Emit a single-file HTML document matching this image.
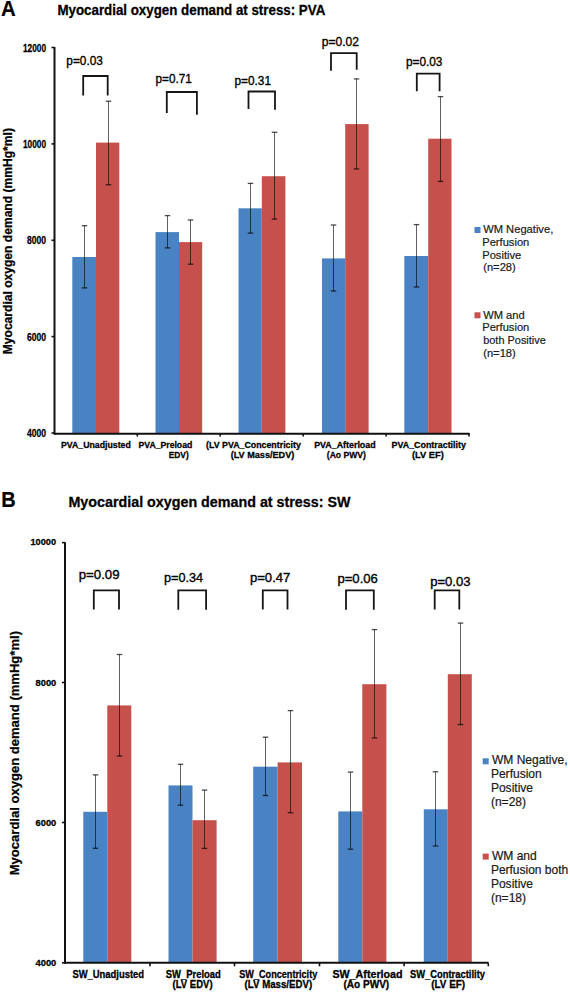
<!DOCTYPE html>
<html><head><meta charset="utf-8"><title>Myocardial oxygen demand at stress</title>
<style>html,body{margin:0;padding:0;background:#fff;}svg{display:block;font-family:"Liberation Sans", sans-serif;}</style></head>
<body><svg width="570" height="992" viewBox="0 0 570 992">
<rect width="570" height="992" fill="#fff"/>
<rect x="72.30" y="257.00" width="23.70" height="176.70" fill="#4A83C4"/>
<rect x="96.00" y="142.60" width="23.30" height="291.10" fill="#C6514C"/>
<rect x="155.50" y="232.10" width="23.50" height="201.60" fill="#4A83C4"/>
<rect x="179.00" y="242.10" width="23.20" height="191.60" fill="#C6514C"/>
<rect x="238.50" y="208.30" width="23.30" height="225.40" fill="#4A83C4"/>
<rect x="261.80" y="176.20" width="23.60" height="257.50" fill="#C6514C"/>
<rect x="322.00" y="258.40" width="23.20" height="175.30" fill="#4A83C4"/>
<rect x="345.20" y="124.10" width="23.40" height="309.60" fill="#C6514C"/>
<rect x="404.30" y="256.00" width="23.90" height="177.70" fill="#4A83C4"/>
<rect x="428.20" y="138.70" width="23.30" height="295.00" fill="#C6514C"/>
<line x1="84.50" y1="225.70" x2="84.50" y2="287.90" stroke="#000" stroke-opacity="0.62" stroke-width="1.0"/>
<line x1="81.75" y1="225.70" x2="87.25" y2="225.70" stroke="#000" stroke-opacity="0.7" stroke-width="1.3"/>
<line x1="81.75" y1="287.90" x2="87.25" y2="287.90" stroke="#000" stroke-opacity="0.7" stroke-width="1.3"/>
<line x1="108.50" y1="101.20" x2="108.50" y2="184.70" stroke="#000" stroke-opacity="0.62" stroke-width="1.0"/>
<line x1="105.75" y1="101.20" x2="111.25" y2="101.20" stroke="#000" stroke-opacity="0.7" stroke-width="1.3"/>
<line x1="105.75" y1="184.70" x2="111.25" y2="184.70" stroke="#000" stroke-opacity="0.7" stroke-width="1.3"/>
<line x1="167.50" y1="215.60" x2="167.50" y2="247.90" stroke="#000" stroke-opacity="0.62" stroke-width="1.0"/>
<line x1="164.75" y1="215.60" x2="170.25" y2="215.60" stroke="#000" stroke-opacity="0.7" stroke-width="1.3"/>
<line x1="164.75" y1="247.90" x2="170.25" y2="247.90" stroke="#000" stroke-opacity="0.7" stroke-width="1.3"/>
<line x1="190.50" y1="220.00" x2="190.50" y2="264.20" stroke="#000" stroke-opacity="0.62" stroke-width="1.0"/>
<line x1="187.75" y1="220.00" x2="193.25" y2="220.00" stroke="#000" stroke-opacity="0.7" stroke-width="1.3"/>
<line x1="187.75" y1="264.20" x2="193.25" y2="264.20" stroke="#000" stroke-opacity="0.7" stroke-width="1.3"/>
<line x1="250.50" y1="183.40" x2="250.50" y2="233.10" stroke="#000" stroke-opacity="0.62" stroke-width="1.0"/>
<line x1="247.75" y1="183.40" x2="253.25" y2="183.40" stroke="#000" stroke-opacity="0.7" stroke-width="1.3"/>
<line x1="247.75" y1="233.10" x2="253.25" y2="233.10" stroke="#000" stroke-opacity="0.7" stroke-width="1.3"/>
<line x1="274.50" y1="132.30" x2="274.50" y2="219.10" stroke="#000" stroke-opacity="0.62" stroke-width="1.0"/>
<line x1="271.75" y1="132.30" x2="277.25" y2="132.30" stroke="#000" stroke-opacity="0.7" stroke-width="1.3"/>
<line x1="271.75" y1="219.10" x2="277.25" y2="219.10" stroke="#000" stroke-opacity="0.7" stroke-width="1.3"/>
<line x1="333.50" y1="225.00" x2="333.50" y2="291.00" stroke="#000" stroke-opacity="0.62" stroke-width="1.0"/>
<line x1="330.75" y1="225.00" x2="336.25" y2="225.00" stroke="#000" stroke-opacity="0.7" stroke-width="1.3"/>
<line x1="330.75" y1="291.00" x2="336.25" y2="291.00" stroke="#000" stroke-opacity="0.7" stroke-width="1.3"/>
<line x1="356.50" y1="78.90" x2="356.50" y2="168.90" stroke="#000" stroke-opacity="0.62" stroke-width="1.0"/>
<line x1="353.75" y1="78.90" x2="359.25" y2="78.90" stroke="#000" stroke-opacity="0.7" stroke-width="1.3"/>
<line x1="353.75" y1="168.90" x2="359.25" y2="168.90" stroke="#000" stroke-opacity="0.7" stroke-width="1.3"/>
<line x1="416.50" y1="224.60" x2="416.50" y2="287.00" stroke="#000" stroke-opacity="0.62" stroke-width="1.0"/>
<line x1="413.75" y1="224.60" x2="419.25" y2="224.60" stroke="#000" stroke-opacity="0.7" stroke-width="1.3"/>
<line x1="413.75" y1="287.00" x2="419.25" y2="287.00" stroke="#000" stroke-opacity="0.7" stroke-width="1.3"/>
<line x1="440.50" y1="96.60" x2="440.50" y2="181.40" stroke="#000" stroke-opacity="0.62" stroke-width="1.0"/>
<line x1="437.75" y1="96.60" x2="443.25" y2="96.60" stroke="#000" stroke-opacity="0.7" stroke-width="1.3"/>
<line x1="437.75" y1="181.40" x2="443.25" y2="181.40" stroke="#000" stroke-opacity="0.7" stroke-width="1.3"/>
<line x1="54.50" y1="47.00" x2="54.50" y2="434.70" stroke="#111" stroke-width="2.0" stroke-linecap="butt"/>
<line x1="54.50" y1="433.70" x2="469.50" y2="433.70" stroke="#111" stroke-width="2.0" stroke-linecap="butt"/>
<line x1="51.50" y1="47.50" x2="54.50" y2="47.50" stroke="#111" stroke-width="1.6" stroke-linecap="butt"/>
<line x1="51.50" y1="143.90" x2="54.50" y2="143.90" stroke="#111" stroke-width="1.6" stroke-linecap="butt"/>
<line x1="51.50" y1="240.30" x2="54.50" y2="240.30" stroke="#111" stroke-width="1.6" stroke-linecap="butt"/>
<line x1="51.50" y1="336.60" x2="54.50" y2="336.60" stroke="#111" stroke-width="1.6" stroke-linecap="butt"/>
<line x1="51.50" y1="433.00" x2="54.50" y2="433.00" stroke="#111" stroke-width="1.6" stroke-linecap="butt"/>
<line x1="137.30" y1="433.00" x2="137.30" y2="436.50" stroke="#111" stroke-width="1.6" stroke-linecap="butt"/>
<line x1="220.20" y1="433.00" x2="220.20" y2="436.50" stroke="#111" stroke-width="1.6" stroke-linecap="butt"/>
<line x1="303.20" y1="433.00" x2="303.20" y2="436.50" stroke="#111" stroke-width="1.6" stroke-linecap="butt"/>
<line x1="386.10" y1="433.00" x2="386.10" y2="436.50" stroke="#111" stroke-width="1.6" stroke-linecap="butt"/>
<line x1="469.00" y1="433.00" x2="469.00" y2="436.50" stroke="#111" stroke-width="1.6" stroke-linecap="butt"/>
<path d="M83.20,95.60 L83.20,76.00 L107.70,76.00 L107.70,95.60" fill="none" stroke="#151515" stroke-width="1.8" stroke-linejoin="miter"/>
<path d="M166.80,113.00 L166.80,92.00 L196.90,92.00 L196.90,114.70" fill="none" stroke="#151515" stroke-width="1.8" stroke-linejoin="miter"/>
<path d="M248.50,109.10 L248.50,91.50 L275.00,91.50 L275.00,109.80" fill="none" stroke="#151515" stroke-width="1.8" stroke-linejoin="miter"/>
<path d="M331.00,70.80 L331.00,53.20 L356.70,53.20 L356.70,69.80" fill="none" stroke="#151515" stroke-width="1.8" stroke-linejoin="miter"/>
<path d="M416.80,91.20 L416.80,73.70 L439.60,73.70 L439.60,91.20" fill="none" stroke="#151515" stroke-width="1.8" stroke-linejoin="miter"/>
<rect x="474.50" y="227.00" width="6.00" height="6.00" fill="#4A83C4"/>
<rect x="474.50" y="312.30" width="6.00" height="6.00" fill="#C6514C"/>
<rect x="83.30" y="811.80" width="24.00" height="151.00" fill="#4A83C4"/>
<rect x="107.30" y="705.40" width="24.00" height="257.40" fill="#C6514C"/>
<rect x="168.50" y="785.40" width="24.00" height="177.40" fill="#4A83C4"/>
<rect x="192.50" y="820.20" width="24.10" height="142.60" fill="#C6514C"/>
<rect x="253.20" y="766.70" width="24.40" height="196.10" fill="#4A83C4"/>
<rect x="277.60" y="762.40" width="24.40" height="200.40" fill="#C6514C"/>
<rect x="338.30" y="811.40" width="24.00" height="151.40" fill="#4A83C4"/>
<rect x="362.30" y="684.20" width="24.10" height="278.60" fill="#C6514C"/>
<rect x="423.80" y="809.30" width="24.00" height="153.50" fill="#4A83C4"/>
<rect x="447.80" y="674.20" width="24.00" height="288.60" fill="#C6514C"/>
<line x1="95.50" y1="774.90" x2="95.50" y2="848.30" stroke="#000" stroke-opacity="0.62" stroke-width="1.0"/>
<line x1="92.75" y1="774.90" x2="98.25" y2="774.90" stroke="#000" stroke-opacity="0.7" stroke-width="1.3"/>
<line x1="92.75" y1="848.30" x2="98.25" y2="848.30" stroke="#000" stroke-opacity="0.7" stroke-width="1.3"/>
<line x1="119.50" y1="654.50" x2="119.50" y2="756.00" stroke="#000" stroke-opacity="0.62" stroke-width="1.0"/>
<line x1="116.75" y1="654.50" x2="122.25" y2="654.50" stroke="#000" stroke-opacity="0.7" stroke-width="1.3"/>
<line x1="116.75" y1="756.00" x2="122.25" y2="756.00" stroke="#000" stroke-opacity="0.7" stroke-width="1.3"/>
<line x1="180.50" y1="764.30" x2="180.50" y2="805.20" stroke="#000" stroke-opacity="0.62" stroke-width="1.0"/>
<line x1="177.75" y1="764.30" x2="183.25" y2="764.30" stroke="#000" stroke-opacity="0.7" stroke-width="1.3"/>
<line x1="177.75" y1="805.20" x2="183.25" y2="805.20" stroke="#000" stroke-opacity="0.7" stroke-width="1.3"/>
<line x1="204.50" y1="790.10" x2="204.50" y2="848.40" stroke="#000" stroke-opacity="0.62" stroke-width="1.0"/>
<line x1="201.75" y1="790.10" x2="207.25" y2="790.10" stroke="#000" stroke-opacity="0.7" stroke-width="1.3"/>
<line x1="201.75" y1="848.40" x2="207.25" y2="848.40" stroke="#000" stroke-opacity="0.7" stroke-width="1.3"/>
<line x1="265.50" y1="737.20" x2="265.50" y2="795.50" stroke="#000" stroke-opacity="0.62" stroke-width="1.0"/>
<line x1="262.75" y1="737.20" x2="268.25" y2="737.20" stroke="#000" stroke-opacity="0.7" stroke-width="1.3"/>
<line x1="262.75" y1="795.50" x2="268.25" y2="795.50" stroke="#000" stroke-opacity="0.7" stroke-width="1.3"/>
<line x1="290.50" y1="710.60" x2="290.50" y2="812.70" stroke="#000" stroke-opacity="0.62" stroke-width="1.0"/>
<line x1="287.75" y1="710.60" x2="293.25" y2="710.60" stroke="#000" stroke-opacity="0.7" stroke-width="1.3"/>
<line x1="287.75" y1="812.70" x2="293.25" y2="812.70" stroke="#000" stroke-opacity="0.7" stroke-width="1.3"/>
<line x1="350.50" y1="772.10" x2="350.50" y2="849.20" stroke="#000" stroke-opacity="0.62" stroke-width="1.0"/>
<line x1="347.75" y1="772.10" x2="353.25" y2="772.10" stroke="#000" stroke-opacity="0.7" stroke-width="1.3"/>
<line x1="347.75" y1="849.20" x2="353.25" y2="849.20" stroke="#000" stroke-opacity="0.7" stroke-width="1.3"/>
<line x1="374.50" y1="629.60" x2="374.50" y2="737.90" stroke="#000" stroke-opacity="0.62" stroke-width="1.0"/>
<line x1="371.75" y1="629.60" x2="377.25" y2="629.60" stroke="#000" stroke-opacity="0.7" stroke-width="1.3"/>
<line x1="371.75" y1="737.90" x2="377.25" y2="737.90" stroke="#000" stroke-opacity="0.7" stroke-width="1.3"/>
<line x1="435.50" y1="771.80" x2="435.50" y2="846.00" stroke="#000" stroke-opacity="0.62" stroke-width="1.0"/>
<line x1="432.75" y1="771.80" x2="438.25" y2="771.80" stroke="#000" stroke-opacity="0.7" stroke-width="1.3"/>
<line x1="432.75" y1="846.00" x2="438.25" y2="846.00" stroke="#000" stroke-opacity="0.7" stroke-width="1.3"/>
<line x1="460.50" y1="623.10" x2="460.50" y2="724.60" stroke="#000" stroke-opacity="0.62" stroke-width="1.0"/>
<line x1="457.75" y1="623.10" x2="463.25" y2="623.10" stroke="#000" stroke-opacity="0.7" stroke-width="1.3"/>
<line x1="457.75" y1="724.60" x2="463.25" y2="724.60" stroke="#000" stroke-opacity="0.7" stroke-width="1.3"/>
<line x1="65.00" y1="542.20" x2="65.00" y2="963.80" stroke="#111" stroke-width="2.0" stroke-linecap="butt"/>
<line x1="65.00" y1="962.80" x2="488.50" y2="962.80" stroke="#111" stroke-width="2.0" stroke-linecap="butt"/>
<line x1="62.00" y1="542.60" x2="65.00" y2="542.60" stroke="#111" stroke-width="1.6" stroke-linecap="butt"/>
<line x1="62.00" y1="682.50" x2="65.00" y2="682.50" stroke="#111" stroke-width="1.6" stroke-linecap="butt"/>
<line x1="62.00" y1="822.50" x2="65.00" y2="822.50" stroke="#111" stroke-width="1.6" stroke-linecap="butt"/>
<line x1="62.00" y1="962.80" x2="65.00" y2="962.80" stroke="#111" stroke-width="1.6" stroke-linecap="butt"/>
<line x1="150.00" y1="962.80" x2="150.00" y2="966.30" stroke="#111" stroke-width="1.6" stroke-linecap="butt"/>
<line x1="234.50" y1="962.80" x2="234.50" y2="966.30" stroke="#111" stroke-width="1.6" stroke-linecap="butt"/>
<line x1="319.50" y1="962.80" x2="319.50" y2="966.30" stroke="#111" stroke-width="1.6" stroke-linecap="butt"/>
<line x1="404.10" y1="962.80" x2="404.10" y2="966.30" stroke="#111" stroke-width="1.6" stroke-linecap="butt"/>
<line x1="488.30" y1="962.80" x2="488.30" y2="966.30" stroke="#111" stroke-width="1.6" stroke-linecap="butt"/>
<path d="M93.80,609.60 L93.80,590.30 L119.00,590.30 L119.00,609.60" fill="none" stroke="#151515" stroke-width="1.8" stroke-linejoin="miter"/>
<path d="M178.30,609.80 L178.30,590.30 L206.10,590.30 L206.10,609.80" fill="none" stroke="#151515" stroke-width="1.8" stroke-linejoin="miter"/>
<path d="M262.80,609.40 L262.80,590.30 L287.50,590.30 L287.50,609.40" fill="none" stroke="#151515" stroke-width="1.8" stroke-linejoin="miter"/>
<path d="M346.00,609.80 L346.00,590.30 L373.80,590.30 L373.80,609.80" fill="none" stroke="#151515" stroke-width="1.8" stroke-linejoin="miter"/>
<path d="M434.70,609.40 L434.70,590.30 L459.30,590.30 L459.30,609.40" fill="none" stroke="#151515" stroke-width="1.8" stroke-linejoin="miter"/>
<rect x="482.70" y="758.30" width="6.00" height="6.00" fill="#4A83C4"/>
<rect x="482.70" y="853.60" width="6.00" height="6.00" fill="#C6514C"/>
<text transform="translate(1.05,16.00) scale(0.9500,1.0000)" font-size="21.5" font-weight="bold" fill="#000" stroke="#000" stroke-width="0.2">A</text>
<text transform="translate(57.40,15.00) scale(1.0034,1.0500)" font-size="13.3" font-weight="bold" fill="#000" stroke="#000" stroke-width="0.25">Myocardial oxygen demand at stress: PVA</text>
<text transform="translate(23.00,51.50) scale(0.9200,1.1500)" font-size="9.0" font-weight="bold" fill="#000" stroke="#000" stroke-width="0.25">12000</text>
<text transform="translate(23.00,147.70) scale(0.9200,1.1500)" font-size="9.0" font-weight="bold" fill="#000" stroke="#000" stroke-width="0.25">10000</text>
<text transform="translate(27.00,244.20) scale(0.9500,1.1500)" font-size="9.0" font-weight="bold" fill="#000" stroke="#000" stroke-width="0.25">8000</text>
<text transform="translate(27.00,340.60) scale(0.9500,1.1500)" font-size="9.0" font-weight="bold" fill="#000" stroke="#000" stroke-width="0.25">6000</text>
<text transform="translate(27.00,437.40) scale(0.9500,1.1500)" font-size="9.0" font-weight="bold" fill="#000" stroke="#000" stroke-width="0.25">4000</text>
<text transform="translate(11.80,354.28) rotate(-90) scale(0.9753,0.9600)" font-size="12.4" font-weight="bold" fill="#000" stroke="#000" stroke-width="0.25">Myocardial oxygen demand (mmHg*ml)</text>
<text transform="translate(61.00,447.90) scale(1.0294,1.0600)" font-size="8.5" font-weight="bold" fill="#000" stroke="#000" stroke-width="0.25">PVA_Unadjusted</text>
<text transform="translate(138.50,447.90) scale(1.0208,1.0600)" font-size="8.5" font-weight="bold" fill="#000" stroke="#000" stroke-width="0.25">PVA_Preload</text>
<text transform="translate(168.80,457.90) scale(0.9800,1.0600)" font-size="8.5" font-weight="bold" fill="#000" stroke="#000" stroke-width="0.25">EDV)</text>
<text transform="translate(206.00,447.90) scale(1.0407,1.0600)" font-size="8.5" font-weight="bold" fill="#000" stroke="#000" stroke-width="0.25">(LV PVA_Concentricity</text>
<text transform="translate(230.70,457.90) scale(1.0729,1.0600)" font-size="8.5" font-weight="bold" fill="#000" stroke="#000" stroke-width="0.25">(LV Mass/EDV)</text>
<text transform="translate(314.20,447.90) scale(1.0441,1.0600)" font-size="8.5" font-weight="bold" fill="#000" stroke="#000" stroke-width="0.25">PVA_Afterload</text>
<text transform="translate(326.80,457.90) scale(1.0128,1.0600)" font-size="8.5" font-weight="bold" fill="#000" stroke="#000" stroke-width="0.25">(Ao PWV)</text>
<text transform="translate(391.60,447.90) scale(1.0451,1.0600)" font-size="8.5" font-weight="bold" fill="#000" stroke="#000" stroke-width="0.25">PVA_Contractility</text>
<text transform="translate(412.00,457.90) scale(1.0931,1.0600)" font-size="8.5" font-weight="bold" fill="#000" stroke="#000" stroke-width="0.25">(LV EF)</text>
<text transform="translate(66.30,65.20) scale(1.1182,1.1300)" font-size="10.6" font-weight="normal" fill="#000" stroke="#000" stroke-width="0.3">p=0.03</text>
<text transform="translate(155.50,82.90) scale(1.1094,1.1300)" font-size="10.6" font-weight="normal" fill="#000" stroke="#000" stroke-width="0.3">p=0.71</text>
<text transform="translate(234.50,84.60) scale(1.1156,1.1300)" font-size="10.6" font-weight="normal" fill="#000" stroke="#000" stroke-width="0.3">p=0.31</text>
<text transform="translate(321.80,46.00) scale(1.1375,1.1300)" font-size="10.6" font-weight="normal" fill="#000" stroke="#000" stroke-width="0.3">p=0.02</text>
<text transform="translate(406.00,66.00) scale(1.1152,1.1300)" font-size="10.6" font-weight="normal" fill="#000" stroke="#000" stroke-width="0.3">p=0.03</text>
<text transform="translate(483.20,233.20) scale(1.0147,1.0600)" font-size="11.0" font-weight="normal" fill="#1a1a1a" stroke="#1a1a1a" stroke-width="0.2">WM Negative,</text>
<text transform="translate(482.19,245.90) scale(1.0147,1.0600)" font-size="11.0" font-weight="normal" fill="#1a1a1a" stroke="#1a1a1a" stroke-width="0.2">Perfusion</text>
<text transform="translate(482.19,258.60) scale(1.0147,1.0600)" font-size="11.0" font-weight="normal" fill="#1a1a1a" stroke="#1a1a1a" stroke-width="0.2">Positive</text>
<text transform="translate(483.20,271.30) scale(1.0147,1.0600)" font-size="11.0" font-weight="normal" fill="#1a1a1a" stroke="#1a1a1a" stroke-width="0.2">(n=28)</text>
<text transform="translate(483.20,318.50) scale(1.0147,1.0600)" font-size="11.0" font-weight="normal" fill="#1a1a1a" stroke="#1a1a1a" stroke-width="0.2">WM and</text>
<text transform="translate(482.19,331.20) scale(1.0147,1.0600)" font-size="11.0" font-weight="normal" fill="#1a1a1a" stroke="#1a1a1a" stroke-width="0.2">Perfusion</text>
<text transform="translate(483.20,343.90) scale(0.9952,1.0600)" font-size="11.0" font-weight="normal" fill="#1a1a1a" stroke="#1a1a1a" stroke-width="0.2">both Positive</text>
<text transform="translate(483.20,356.60) scale(1.0147,1.0600)" font-size="11.0" font-weight="normal" fill="#1a1a1a" stroke="#1a1a1a" stroke-width="0.2">(n=18)</text>
<text transform="translate(1.13,506.70) scale(0.9692,1.0600)" font-size="20.6" font-weight="bold" fill="#000" stroke="#000" stroke-width="0.2">B</text>
<text transform="translate(68.46,506.50) scale(1.0371,1.1200)" font-size="13.8" font-weight="bold" fill="#000" stroke="#000" stroke-width="0.25">Myocardial oxygen demand at stress: SW</text>
<text transform="translate(30.50,545.10) scale(1.0708,1.1400)" font-size="8.6" font-weight="bold" fill="#000" stroke="#000" stroke-width="0.25">10000</text>
<text transform="translate(35.60,685.50) scale(1.0842,1.1400)" font-size="8.6" font-weight="bold" fill="#000" stroke="#000" stroke-width="0.25">8000</text>
<text transform="translate(35.60,825.50) scale(1.0842,1.1400)" font-size="8.6" font-weight="bold" fill="#000" stroke="#000" stroke-width="0.25">6000</text>
<text transform="translate(35.60,966.20) scale(1.0842,1.1400)" font-size="8.6" font-weight="bold" fill="#000" stroke="#000" stroke-width="0.25">4000</text>
<text transform="translate(19.30,875.26) rotate(-90) scale(0.9597,0.9900)" font-size="13.6" font-weight="bold" fill="#000" stroke="#000" stroke-width="0.25">Myocardial oxygen demand (mmHg*ml)</text>
<text transform="translate(72.40,977.80) scale(1.0716,1.1600)" font-size="8.8" font-weight="bold" fill="#000" stroke="#000" stroke-width="0.25">SW_Unadjusted</text>
<text transform="translate(165.70,977.80) scale(1.0765,1.1600)" font-size="8.8" font-weight="bold" fill="#000" stroke="#000" stroke-width="0.25">SW_Preload</text>
<text transform="translate(172.60,988.00) scale(1.0811,1.1600)" font-size="8.8" font-weight="bold" fill="#000" stroke="#000" stroke-width="0.25">(LV EDV)</text>
<text transform="translate(239.20,977.80) scale(1.0382,1.1600)" font-size="8.8" font-weight="bold" fill="#000" stroke="#000" stroke-width="0.25">SW_Concentricity</text>
<text transform="translate(244.60,988.00) scale(1.1016,1.1600)" font-size="8.8" font-weight="bold" fill="#000" stroke="#000" stroke-width="0.25">(LV Mass/EDV)</text>
<text transform="translate(332.40,977.80) scale(1.2175,1.1600)" font-size="8.8" font-weight="bold" fill="#000" stroke="#000" stroke-width="0.25">SW_Afterload</text>
<text transform="translate(343.40,988.00) scale(1.1450,1.1600)" font-size="8.8" font-weight="bold" fill="#000" stroke="#000" stroke-width="0.25">(Ao PWV)</text>
<text transform="translate(409.90,977.80) scale(1.0690,1.1600)" font-size="8.8" font-weight="bold" fill="#000" stroke="#000" stroke-width="0.25">SW_Contractility</text>
<text transform="translate(431.20,988.00) scale(1.1267,1.1600)" font-size="8.8" font-weight="bold" fill="#000" stroke="#000" stroke-width="0.25">(LV EF)</text>
<text transform="translate(78.70,578.70) scale(1.2152,1.2100)" font-size="10.9" font-weight="normal" fill="#000" stroke="#000" stroke-width="0.3">p=0.09</text>
<text transform="translate(164.00,581.80) scale(1.1647,1.2100)" font-size="10.9" font-weight="normal" fill="#000" stroke="#000" stroke-width="0.3">p=0.34</text>
<text transform="translate(249.90,581.50) scale(1.2030,1.2100)" font-size="10.9" font-weight="normal" fill="#000" stroke="#000" stroke-width="0.3">p=0.47</text>
<text transform="translate(337.40,582.70) scale(1.2030,1.2100)" font-size="10.9" font-weight="normal" fill="#000" stroke="#000" stroke-width="0.3">p=0.06</text>
<text transform="translate(430.20,585.50) scale(1.2000,1.2100)" font-size="10.9" font-weight="normal" fill="#000" stroke="#000" stroke-width="0.3">p=0.03</text>
<text transform="translate(491.90,764.30) scale(1.0219,1.0300)" font-size="11.8" font-weight="normal" fill="#1a1a1a" stroke="#1a1a1a" stroke-width="0.2">WM Negative,</text>
<text transform="translate(490.88,778.10) scale(1.0219,1.0300)" font-size="11.8" font-weight="normal" fill="#1a1a1a" stroke="#1a1a1a" stroke-width="0.2">Perfusion</text>
<text transform="translate(490.88,791.90) scale(1.0219,1.0300)" font-size="11.8" font-weight="normal" fill="#1a1a1a" stroke="#1a1a1a" stroke-width="0.2">Positive</text>
<text transform="translate(490.88,805.70) scale(1.0219,1.0300)" font-size="11.8" font-weight="normal" fill="#1a1a1a" stroke="#1a1a1a" stroke-width="0.2">(n=28)</text>
<text transform="translate(491.90,860.40) scale(1.0219,1.0300)" font-size="11.8" font-weight="normal" fill="#1a1a1a" stroke="#1a1a1a" stroke-width="0.2">WM and</text>
<text transform="translate(490.88,874.20) scale(1.0173,1.0300)" font-size="11.8" font-weight="normal" fill="#1a1a1a" stroke="#1a1a1a" stroke-width="0.2">Perfusion both</text>
<text transform="translate(490.88,888.00) scale(1.0219,1.0300)" font-size="11.8" font-weight="normal" fill="#1a1a1a" stroke="#1a1a1a" stroke-width="0.2">Positive</text>
<text transform="translate(490.88,901.80) scale(1.0219,1.0300)" font-size="11.8" font-weight="normal" fill="#1a1a1a" stroke="#1a1a1a" stroke-width="0.2">(n=18)</text>
</svg></body></html>
